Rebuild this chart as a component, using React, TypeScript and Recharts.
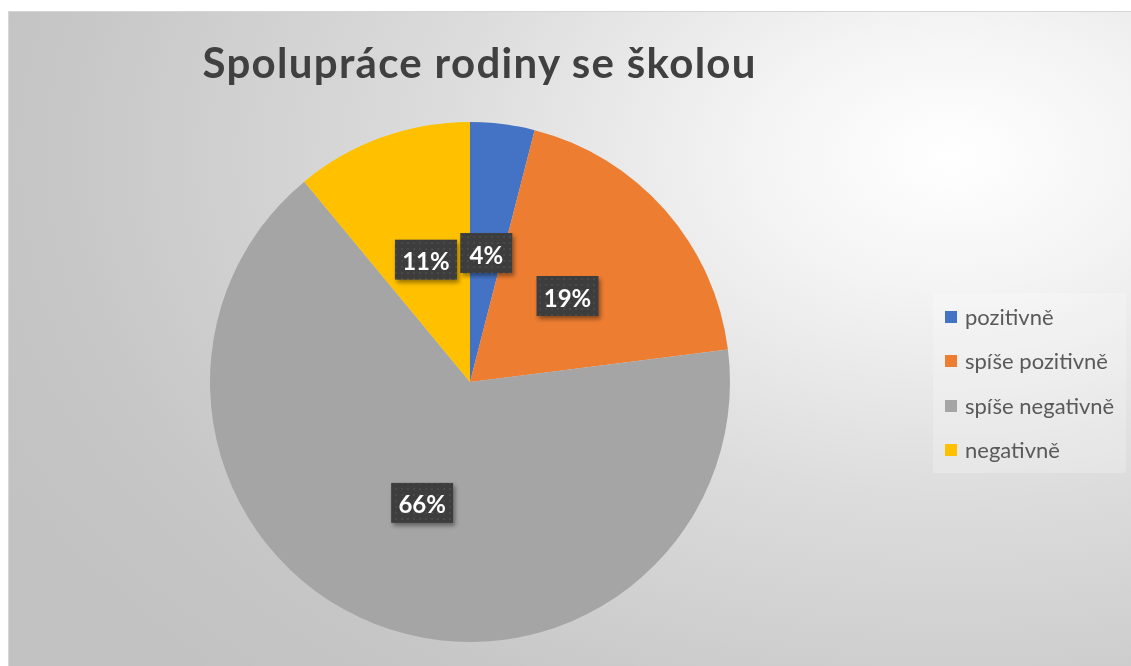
import { Cell, Legend, Pie, PieChart } from "recharts"

// source data
const categories = ["pozitivně", "spíše pozitivně", "spíše negativně", "negativně"]
const shares = [4, 19, 66, 11]
const sliceColors = ["#4472C4", "#ED7D31", "#A5A5A5", "#FFC000"]

const TITLE = "Spolupráce rodiny se školou"
const W = 1123
const H = 655
const RAD = Math.PI / 180

const data = categories.map((name, i) => ({ name, value: shares[i] }))

// dark dotted callout box like the Excel data label
const renderLabel = (props: any) => {
  const { cx, cy, midAngle, outerRadius, percent } = props
  const r = outerRadius * 0.5
  const x = cx + r * Math.cos(-midAngle * RAD)
  const y = cy + r * Math.sin(-midAngle * RAD)
  const text = `${Math.round(percent * 100)}%`
  const w = text.length === 2 ? 52 : 62
  const h = 40
  return (
    <g>
      <rect
        x={x - w / 2}
        y={y - h / 2}
        width={w}
        height={h}
        fill="url(#dotFill)"
        filter="url(#lblShadow)"
      />
      <text
        x={x}
        y={y + 1}
        textAnchor="middle"
        dominantBaseline="central"
        fill="#ffffff"
        fontFamily="Lato, 'Open Sans', sans-serif"
        fontWeight={700}
        fontSize={24}
      >
        {text}
      </text>
    </g>
  )
}

const renderLegend = () => (
  <div
    style={{
      width: 193,
      height: 180,
      background: "rgba(255,255,255,0.22)",
      boxSizing: "border-box",
      paddingTop: 2,
      paddingLeft: 12,
    }}
  >
    {categories.map((c, i) => (
      <div
        key={c}
        style={{ display: "flex", alignItems: "center", height: 44.3 }}
      >
        <span
          style={{
            width: 12,
            height: 12,
            background: sliceColors[i],
            display: "inline-block",
            marginRight: 8,
            flexShrink: 0,
          }}
        />
        <span
          style={{
            fontFamily: "Lato, 'Open Sans', sans-serif",
            fontSize: 22,
            color: "#595959",
            lineHeight: 1,
            whiteSpace: "nowrap",
          }}
        >
          {c}
        </span>
      </div>
    ))}
  </div>
)

export default function App() {
  return (
    <div
      style={{
        position: "fixed",
        left: 8,
        top: 11,
        width: W,
        height: H,
        boxSizing: "border-box",
        borderTop: "1px solid #d6d6d6",
        borderLeft: "1px solid #d6d6d6",
        background:
          "radial-gradient(ellipse 95% 110% at 84% 22%, #ffffff 0%, #f4f4f4 18%, #dcdcdc 48%, #c6c6c6 85%, #c2c2c2 100%)",
      }}
    >
      <svg width={0} height={0} style={{ position: "absolute" }}>
        <defs>
          <pattern id="dotFill" width={6} height={6} patternUnits="userSpaceOnUse">
            <rect width={6} height={6} fill="#3d3d3d" />
            <circle cx={3} cy={3} r={1} fill="#4c4c4c" />
          </pattern>
          <filter id="lblShadow" x="-30%" y="-30%" width="160%" height="170%">
            <feDropShadow dx={2} dy={3} stdDeviation={2} floodColor="#000" floodOpacity={0.4} />
          </filter>
        </defs>
      </svg>
      <svg width={W} height={100} style={{ position: "absolute", left: 0, top: 0 }}>
        <text
          x={470}
          y={66}
          textAnchor="middle"
          fill="#404040"
          fontFamily="Lato, 'Open Sans', sans-serif"
          fontWeight={700}
          fontSize={42}
          textLength={553}
          lengthAdjust="spacing"
        >
          {TITLE}
        </text>
      </svg>
      <PieChart
        width={W - 1}
        height={H - 1}
        margin={{ top: 0, right: 0, bottom: 0, left: 0 }}
        style={{ position: "absolute", left: 0, top: 0 }}
      >
        <Pie
          data={data}
          dataKey="value"
          nameKey="name"
          cx={461}
          cy={370}
          outerRadius={260}
          startAngle={90}
          endAngle={-270}
          stroke="none"
          labelLine={false}
          label={renderLabel}
          isAnimationActive={false}
        >
          {data.map((d, i) => (
            <Cell key={d.name} fill={sliceColors[i]} />
          ))}
        </Pie>
        <Legend
          content={renderLegend}
          layout="vertical"
          verticalAlign="middle"
          align="right"
          wrapperStyle={{ left: 924, top: 281, width: 193, height: 180 }}
        />
      </PieChart>
    </div>
  )
}
